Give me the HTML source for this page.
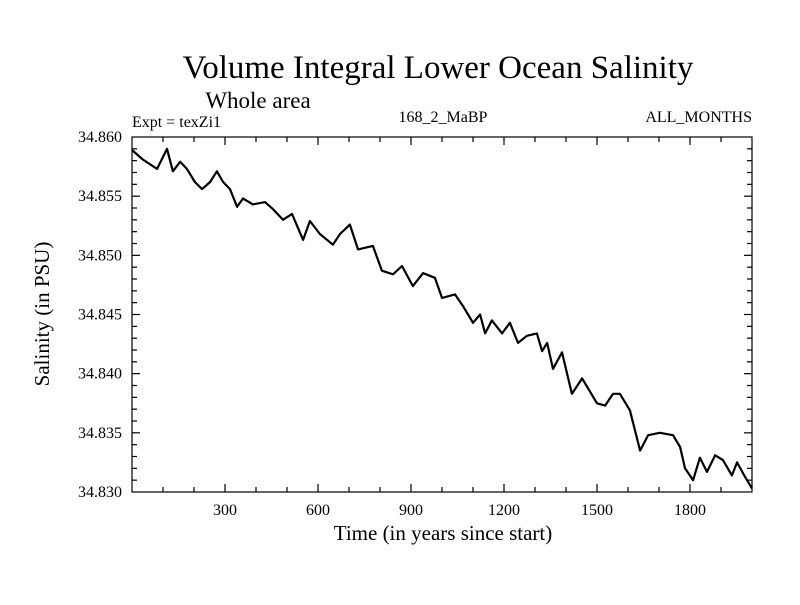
<!DOCTYPE html>
<html><head><meta charset="utf-8"><style>
body{margin:0;background:#fff;}
svg text{font-family:"Liberation Serif",serif;fill:#000;}
</style></head><body>
<svg id="chart" width="800" height="600" viewBox="0 0 800 600" xmlns="http://www.w3.org/2000/svg">
<text x="438" y="78" font-size="33" text-anchor="middle">Volume Integral Lower Ocean Salinity</text>
<text x="258" y="108" font-size="23" text-anchor="middle">Whole area</text>
<text x="132" y="127" font-size="16">Expt = texZi1</text>
<text x="443" y="122" font-size="16" text-anchor="middle">168_2_MaBP</text>
<text x="752" y="122" font-size="16" text-anchor="end">ALL_MONTHS</text>
<text x="443" y="540" font-size="21" text-anchor="middle">Time (in years since start)</text>
<text transform="translate(49,314) rotate(-90)" font-size="21" text-anchor="middle">Salinity (in PSU)</text>
<g id="axes"></g>
<path id="series" fill="none" stroke="#000" stroke-width="2.2" stroke-linejoin="round"/>
<rect x="132" y="137" width="620" height="355" fill="none" stroke="#000" stroke-width="1.2"/>
</svg>
<script>
const years=[0,35,81,113,132,155,177,203,226,252,274,294,316,339,358,390,429,455,487,516,552,574,606,648,671,703,729,777,806,842,871,906,939,977,1000,1042,1068,1100,1123,1139,1161,1194,1219,1245,1274,1306,1323,1339,1358,1387,1419,1452,1500,1526,1552,1574,1606,1639,1665,1703,1745,1768,1784,1810,1832,1855,1881,1906,1935,1952,1977,2000];
const salinity=[34.8589,34.8581,34.8573,34.8590,34.8571,34.8579,34.8573,34.8562,34.8556,34.8562,34.8571,34.8562,34.8556,34.8541,34.8548,34.8543,34.8545,34.8539,34.8530,34.8535,34.8513,34.8529,34.8518,34.8509,34.8518,34.8526,34.8505,34.8508,34.8487,34.8484,34.8491,34.8474,34.8485,34.8481,34.8464,34.8467,34.8457,34.8443,34.8450,34.8434,34.8445,34.8434,34.8443,34.8426,34.8432,34.8434,34.8419,34.8426,34.8404,34.8418,34.8383,34.8396,34.8375,34.8373,34.8383,34.8383,34.8369,34.8335,34.8348,34.8350,34.8348,34.8338,34.8320,34.8310,34.8329,34.8317,34.8331,34.8327,34.8314,34.8325,34.8313,34.8303];
const xTicks=[300,600,900,1200,1500,1800];
const yTicks=[34.830,34.835,34.840,34.845,34.850,34.855,34.860];
const L=132,R=752,T=137,B=492,X0=0,X1=2000,Y0=34.830,Y1=34.860;
const sx=v=>L+(v-X0)/(X1-X0)*(R-L);
const sy=v=>B-(v-Y0)/(Y1-Y0)*(B-T);
const NS="http://www.w3.org/2000/svg";
const ax=document.getElementById('axes');
function line(x1,y1,x2,y2,name){const l=document.createElementNS(NS,'line');
l.setAttribute('x1',x1);l.setAttribute('y1',y1);l.setAttribute('x2',x2);l.setAttribute('y2',y2);
l.setAttribute('stroke','#000');l.setAttribute('stroke-width','1.2');


ax.appendChild(l);}
for(let v=100;v<X1;v+=100){const x=sx(v);const major=v%300===0;const len=major?8:5;
line(x,B,x,B-len,'x-tick');line(x,T,x,T+len,'x-tick-top');}
for(let i=1;i<30;i++){const v=Y0+i*0.001;const y=sy(v);const major=i%5===0;const len=major?8:5;
line(L,y,L+len,y,'y-tick');line(R,y,R-len,y,'y-tick-right');}
xTicks.forEach(v=>{const t=document.createElementNS(NS,'text');t.setAttribute('x',sx(v));t.setAttribute('y',B+23);
t.setAttribute('font-size','16');t.setAttribute('text-anchor','middle');t.textContent=v;


ax.appendChild(t);});
yTicks.forEach(v=>{const t=document.createElementNS(NS,'text');t.setAttribute('x',122);t.setAttribute('y',sy(v)+5);
t.setAttribute('font-size','16');t.setAttribute('text-anchor','end');t.textContent=v.toFixed(3);


ax.appendChild(t);});
document.getElementById('series').setAttribute('d',years.map((v,i)=>(i?'L':'M')+sx(v).toFixed(1)+','+sy(salinity[i]).toFixed(1)).join(''));
</script>
</body></html>
